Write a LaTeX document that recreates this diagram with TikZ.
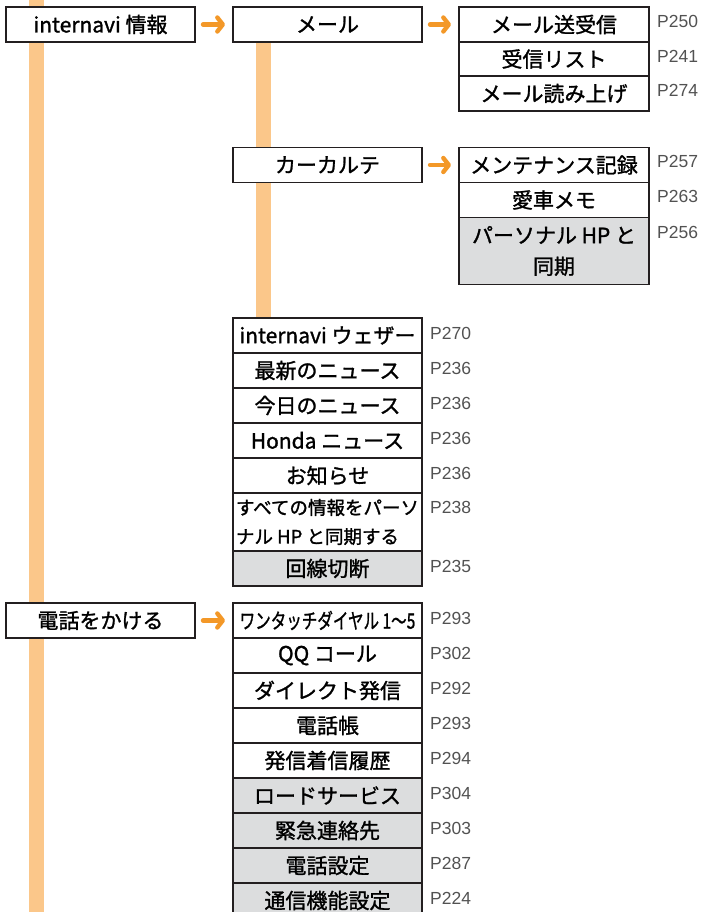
\documentclass[tikz,border=0pt]{standalone}
\usepackage{fontspec}
\usepackage{graphicx}
\usetikzlibrary{arrows.meta, positioning, backgrounds}
\newfontfamily\jpfont[RawFeature={embolden=1.3}]{Noto Sans CJK JP}
\newfontfamily\pgfont{Liberation Sans}
\definecolor{trunkorange}{RGB}{251,199,138}
\definecolor{arrorange}{RGB}{243,152,40}
\definecolor{rowgray}{RGB}{220,221,222}
\definecolor{boxline}{RGB}{35,31,32}

\begin{document}
\begin{tikzpicture}[
    x=1pt, y=-1pt,
    node distance=0pt,
    box/.style={draw=boxline, line width=1.9pt, fill=white, outer sep=0pt, inner sep=1pt,
      minimum width=189pt, minimum height=35pt, text centered,
      font=\jpfont\fontsize{21}{24}\selectfont},
    rbox/.style={box, minimum width=190pt},
    grayrow/.style={fill=rowgray},
    tallrow/.style={align=center, font=\jpfont\fontsize{21}{31}\selectfont},
    page/.style={font=\pgfont\fontsize{17.5}{20}\selectfont, text=black!68, inner sep=0pt, anchor=north west},
    arr/.style={-{Straight Barb[length=5.5pt, width=14pt, round]}, line width=4.4pt, line cap=round,
      arrorange, shorten <=8pt, shorten >=8pt},
    trunk/.style={line width=15pt, trunkorange},
]
\useasboundingbox (0,0) rectangle (707,912);

% ---- Left column ----
\node[box] (info) at (100.5,24.5) {internavi 情報};
\node[box] (call) at (100.5,620.5) {電話をかける};

% ---- Middle column ----
\node[box] (mail) at (327.5,24.5) {メール};
\node[box] (karte) at (327.5,165) {カーカルテ};

% ---- Mail ----
\node[rbox, minimum height=34.5pt] (send) at (554,24.5) {メール送受信};
\node[rbox, minimum height=34.5pt, below=of send] (inbox) {受信リスト};
\node[rbox, minimum height=34.5pt, below=of inbox] (readout) {メール読み上げ};

% ---- Car karte ----
\node[rbox] (maint) at (554,165) {メンテナンス記録};
\node[rbox, below=of maint] (memo) {愛車メモ};
\node[rbox, grayrow, tallrow, minimum height=67pt, below=of memo] (hpsync) {パーソナル HP と\\同期};

% ---- Info items ----
\node[box] (weather) at (327.5,335.5) {internavi ウェザー};
\node[box, below=of weather] (latest) {最新のニュース};
\node[box, below=of latest] (today) {今日のニュース};
\node[box, below=of today] (honda) {Honda ニュース};
\node[box, below=of honda] (notice) {お知らせ};
\node[box, minimum height=58pt, align=left, font=\jpfont\fontsize{18.5}{29}\selectfont,
  below=of notice] (syncall) {すべての情報をパーソ\\ナル HP と同期する};
\node[box, grayrow, below=of syncall] (disconnect) {回線切断};

% ---- Phone items ----
\node[box] (onetouch) at (327.5,620.5) {\scalebox{0.74}[1]{ワンタッチダイヤル 1～5}};
\node[box, below=of onetouch] (qq) {QQ コール};
\node[box, below=of qq] (direct) {ダイレクト発信};
\node[box, below=of direct] (book) {電話帳};
\node[box, below=of book] (history) {発信着信履歴};
\node[box, grayrow, below=of history] (road) {ロードサービス};
\node[box, grayrow, below=of road] (emergency) {緊急連絡先};
\node[box, grayrow, below=of emergency] (telset) {電話設定};
\node[box, grayrow, below=of telset] (commset) {通信機能設定};

% ---- Page numbers ----
\node[page] (send-p) at ([xshift=8pt, yshift=-8pt]send.north east) {P250};
\node[page] (inbox-p) at ([xshift=8pt, yshift=-8pt]inbox.north east) {P241};
\node[page] (readout-p) at ([xshift=8pt, yshift=-8pt]readout.north east) {P274};
\node[page] (maint-p) at ([xshift=8pt, yshift=-8pt]maint.north east) {P257};
\node[page] (memo-p) at ([xshift=8pt, yshift=-8pt]memo.north east) {P263};
\node[page] (hpsync-p) at ([xshift=8pt, yshift=-9pt]hpsync.north east) {P256};
\node[page] (weather-p) at ([xshift=8pt, yshift=-9pt]weather.north east) {P270};
\node[page] (latest-p) at ([xshift=8pt, yshift=-9pt]latest.north east) {P236};
\node[page] (today-p) at ([xshift=8pt, yshift=-9pt]today.north east) {P236};
\node[page] (honda-p) at ([xshift=8pt, yshift=-9pt]honda.north east) {P236};
\node[page] (notice-p) at ([xshift=8pt, yshift=-9pt]notice.north east) {P236};
\node[page] (syncall-p) at ([xshift=8pt, yshift=-8pt]syncall.north east) {P238};
\node[page] (disconnect-p) at ([xshift=8pt, yshift=-9pt]disconnect.north east) {P235};
\node[page] (onetouch-p) at ([xshift=8pt, yshift=-9pt]onetouch.north east) {P293};
\node[page] (qq-p) at ([xshift=8pt, yshift=-9pt]qq.north east) {P302};
\node[page] (direct-p) at ([xshift=8pt, yshift=-9pt]direct.north east) {P292};
\node[page] (book-p) at ([xshift=8pt, yshift=-9pt]book.north east) {P293};
\node[page] (history-p) at ([xshift=8pt, yshift=-9pt]history.north east) {P294};
\node[page] (road-p) at ([xshift=8pt, yshift=-9pt]road.north east) {P304};
\node[page] (emergency-p) at ([xshift=8pt, yshift=-9pt]emergency.north east) {P303};
\node[page] (telset-p) at ([xshift=8pt, yshift=-9pt]telset.north east) {P287};
\node[page] (commset-p) at ([xshift=8pt, yshift=-9pt]commset.north east) {P224};

% ---- Arrows ----
\draw[arr] (info) -- (mail);
\draw[arr] (mail) -- (send);
\draw[arr] (karte) -- (maint);
\draw[arr] (call) -- (onetouch);

% ---- Trunks ----
\begin{scope}[on background layer]
\coordinate (trunk-top) at (36.5,0);
\coordinate (trunk-end) at (36.5,912);
\draw[trunk] (trunk-top) -- (trunk-end);
\draw[trunk] ([xshift=30.5pt]mail.south west) -- ([xshift=30.5pt]weather.north west);
\end{scope}

\end{tikzpicture}
\end{document}
